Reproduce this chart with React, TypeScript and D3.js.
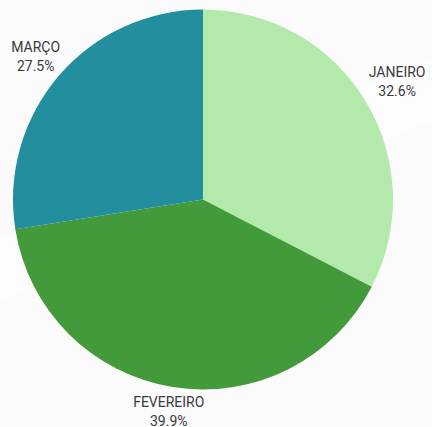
import React from "react";
import * as d3 from "d3";

const categories = ["JANEIRO", "FEVEREIRO", "MARÇO"];
const values = [32.6, 39.9, 27.5];
const colors = ["#b4e9ac", "#439a3a", "#238e9d"];

const W = 432;
const H = 427;
const cx = 203;
const cy = 199.5;
const R = 190;

export default function App() {
  const pie = d3.pie<number>().sort(null).value((d) => d);
  const arcs = pie(values);
  const arcGen = d3.arc<d3.PieArcDatum<number>>().innerRadius(0).outerRadius(R);
  const fontSize = 14;
  const lineH = 19;

  return (
    <svg
      width={W}
      height={H}
      style={{ position: "absolute", left: 0, top: 0, display: "block" }}
      fontFamily="Roboto, 'Noto Sans', sans-serif"
    >
      <rect x={0} y={0} width={W} height={H} fill="#fbfbfb" />
      <polygon points={`0,300 ${W},120 ${W},60 0,240`} fill="#ffffff" opacity={0.6} />
      <g transform={`translate(${cx},${cy})`}>
        {arcs.map((a, i) => (
          <path key={i} d={arcGen(a) || ""} fill={colors[i]} />
        ))}
        {arcs.map((a, i) => {
          const mid = (a.startAngle + a.endAngle) / 2;
          const s = Math.sin(mid);
          const c = -Math.cos(mid);
          const halfW = categories[i].length * 4.1;
          const halfH = 13;
          const d = R + 6 + Math.abs(s) * halfW + Math.abs(c) * halfH;
          const x = s * d;
          const y = c * d;
          return (
            <text
              key={"t" + i}
              x={x}
              y={y}
              textAnchor="middle"
              fontSize={fontSize}
              fill="#3a3a3a"
            >
              <tspan x={x} dy={-lineH / 2 + 5}>{categories[i]}</tspan>
              <tspan x={x} dy={lineH}>{values[i].toFixed(1) + "%"}</tspan>
            </text>
          );
        })}
      </g>
    </svg>
  );
}
